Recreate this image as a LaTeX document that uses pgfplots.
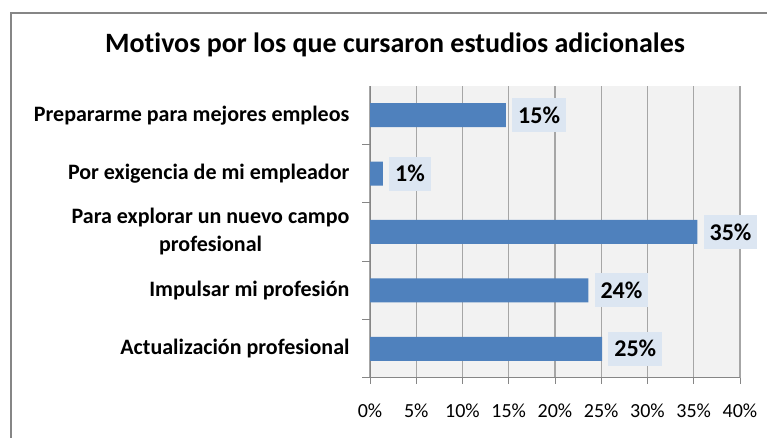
\documentclass[border=0pt]{standalone}
\usepackage{pgfplots}
\pgfplotsset{compat=1.18}
\usepackage{fontspec}
\setmainfont[Ligatures=NoCommon]{Carlito}
\definecolor{barblue}{HTML}{4F81BD}
\definecolor{plotbg}{HTML}{F2F2F2}
\definecolor{gridgray}{HTML}{A6A6A6}
\definecolor{framegray}{HTML}{868686}
\definecolor{labelbg}{HTML}{DCE6F2}

\begin{document}
\begin{tikzpicture}[x=1pt,y=1pt]
\useasboundingbox (0,0) rectangle (767,438);
% chart frame (cropped at right and bottom in the reference)
\draw[framegray, line width=1.5pt] (11,-5) -- (11,425) -- (780,425);
\node[anchor=base, font=\bfseries\fontsize{28}{32}\selectfont] at (395,385)
  {Motivos por los que cursaron estudios adicionales};
\begin{axis}[
  at={(370pt,60pt)}, anchor=south west,
  scale only axis, width=370pt, height=292pt,
  xbar, bar width=24pt,
  xmin=0, xmax=40, ymin=-0.5, ymax=4.5,
  axis x line*=bottom, axis y line*=left,
  axis line style={-, framegray, line width=1pt},
  axis background/.style={fill=plotbg},
  xtick={0,5,...,40},
  xticklabel={\pgfmathprintnumber{\tick}\%},
  /pgf/number format/assume math mode=true,
  xmajorgrids, grid style={gridgray, line width=1.3pt},
  ytick={0,...,4},
  yticklabels={Actualización profesional, Impulsar mi profesión,
    {Para explorar un nuevo campo\\profesional},
    Por exigencia de mi empleador, Prepararme para mejores empleos},
  minor ytick={-0.5,0.5,...,3.5},
  tick align=outside, major tick length=6pt, minor tick length=8pt,
  tick style={framegray, line width=1pt},
  major y tick style={draw=none},
  x tick label style={font=\fontsize{20}{24}\selectfont, yshift=-16pt},
  y tick label style={font=\bfseries\fontsize{22}{28}\selectfont, align=center, xshift=-11pt},
  nodes near coords={\pgfplotspointmeta\%},
  point meta=explicit symbolic,
  nodes near coords style={anchor=west, xshift=6pt, fill=labelbg, text=black,
    font=\bfseries\fontsize{24}{28}\selectfont, minimum height=34pt, inner xsep=6pt},
]
\addplot[fill=barblue, draw=none] coordinates {
  (25.1,0) [25]
  (23.6,1) [24]
  (35.4,2) [35]
  (1.4,3) [1]
  (14.7,4) [15]
};
\end{axis}
\end{tikzpicture}
\end{document}
